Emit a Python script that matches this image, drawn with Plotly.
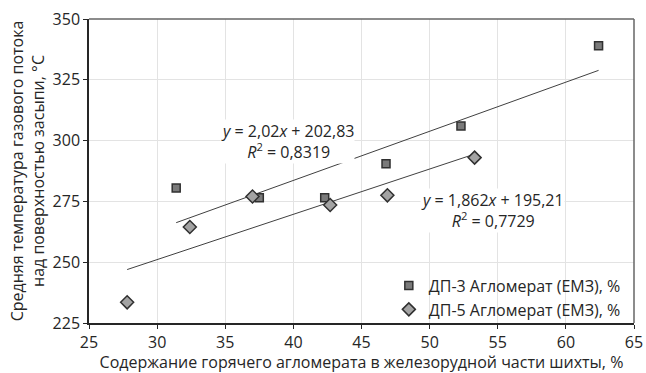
import plotly.graph_objects as go

# DP-3 data
dp3_x = [31.4, 37.5, 42.3, 46.8, 52.3, 62.4]
dp3_y = [280.5, 276.5, 276.5, 290.5, 306.0, 339.0]
# DP-5 data
dp5_x = [27.8, 32.4, 37.0, 42.7, 46.9, 53.3]
dp5_y = [233.5, 264.5, 277.0, 273.5, 277.5, 293.0]

# trendline coefficients
dp3_k, dp3_b = 2.02, 202.83
dp5_k, dp5_b = 1.862, 195.21

x_ticks = [25, 30, 35, 40, 45, 50, 55, 60, 65]
y_ticks = [225, 250, 275, 300, 325, 350]

FONT = "Open Sans"
TXT = "#262626"

fig = go.Figure()

# trendlines
t3x = [min(dp3_x), max(dp3_x)]
t5x = [min(dp5_x), max(dp5_x)]
fig.add_trace(go.Scatter(x=t3x, y=[dp3_k * v + dp3_b for v in t3x], mode="lines",
                         line=dict(color="#404040", width=1), showlegend=False, hoverinfo="skip"))
fig.add_trace(go.Scatter(x=t5x, y=[dp5_k * v + dp5_b for v in t5x], mode="lines",
                         line=dict(color="#404040", width=1), showlegend=False, hoverinfo="skip"))

fig.add_trace(go.Scatter(x=dp3_x, y=dp3_y, mode="markers", name="ДП-3 Агломерат (ЕМЗ), %",
                         marker=dict(symbol="square", size=8, color="#7a7a7a",
                                     line=dict(color="#303030", width=1.5))))
fig.add_trace(go.Scatter(x=dp5_x, y=dp5_y, mode="markers", name="ДП-5 Агломерат (ЕМЗ), %",
                         marker=dict(symbol="diamond", size=10, color="#a3a3a3",
                                     line=dict(color="#303030", width=1.5))))

fig.add_annotation(x=39.55, y=299.6, xref="x", yref="y",
                   text="<i>y</i> = 2,02<i>x</i> + 202,83<br><i>R</i><sup>2</sup> = 0,8319",
                   showarrow=False, bgcolor="white", align="center", borderpad=0,
                   font=dict(family=FONT, size=16, color=TXT))
fig.add_annotation(x=54.6, y=271.2, xref="x", yref="y",
                   text="<i>y</i> = 1,862<i>x</i> + 195,21<br><i>R</i><sup>2</sup> = 0,7729",
                   showarrow=False, bgcolor="white", align="center", borderpad=0,
                   font=dict(family=FONT, size=16, color=TXT))

axis_common = dict(showgrid=True, gridcolor="#e3e3e3", gridwidth=1, zeroline=False,
                   showline=True, linecolor=TXT, linewidth=1.5, automargin=False,
                   ticks="outside", ticklen=4, tickcolor=TXT, ticklabeloverflow="allow",
                   tickfont=dict(family=FONT, size=16, color=TXT))

fig.update_xaxes(range=[25, 65], tickvals=x_ticks,
                 title=dict(text="Содержание горячего агломерата в железорудной части шихты, %",
                            font=dict(family=FONT, size=16, color=TXT), standoff=4),
                 **axis_common)
fig.update_yaxes(range=[225, 350], tickvals=y_ticks,
                 title=dict(text="Средняя температура газового потока<br>над поверхностью засыпи, °C",
                            font=dict(family=FONT, size=16, color=TXT), standoff=4),
                 **axis_common)

# top and right frame
fig.add_shape(type="line", xref="paper", yref="paper", x0=0, x1=1, y0=1, y1=1,
              line=dict(color="#666666", width=1.5))
fig.add_shape(type="line", xref="paper", yref="paper", x0=1, x1=1, y0=0, y1=1,
              line=dict(color="#666666", width=1.5))

fig.update_layout(
    width=646, height=373,
    margin=dict(l=89, r=12, t=19, b=50, autoexpand=False),
    plot_bgcolor="white", paper_bgcolor="white",
    font=dict(family=FONT, size=16, color=TXT),
    legend=dict(x=0.985, y=-0.012, xanchor="right", yanchor="bottom",
                bgcolor="rgba(255,255,255,0)", font=dict(family=FONT, size=16, color=TXT),
                itemwidth=30, tracegroupgap=0),
)

fig.write_html("out.html", config={"displayModeBar": False},
               post_script="document.body.style.margin='0px';document.body.style.overflow='hidden';")
